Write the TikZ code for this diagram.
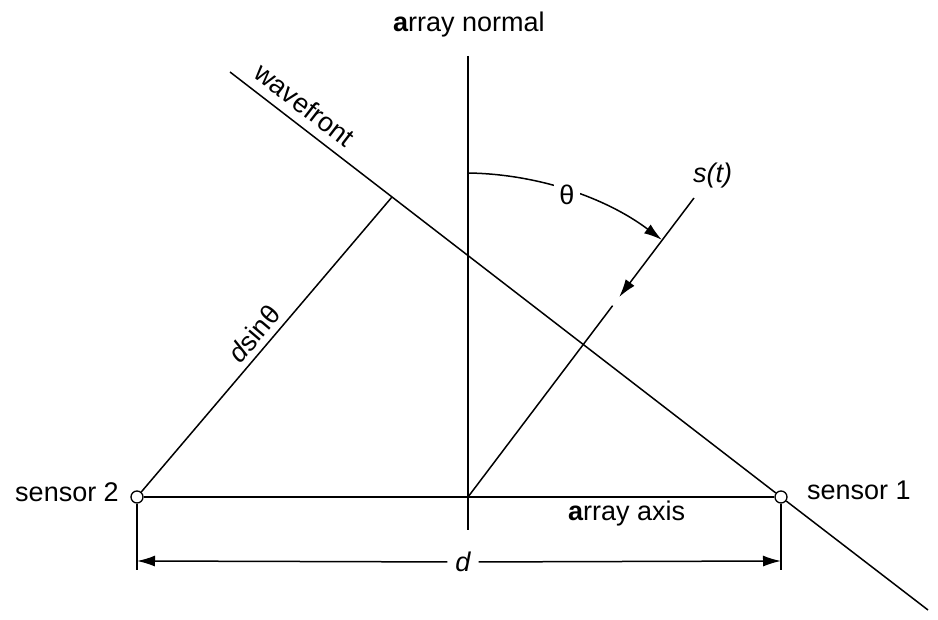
\documentclass[tikz,border=0pt]{standalone}
\usepackage{fontspec}
\setmainfont{Liberation Sans}
\usetikzlibrary{arrows.meta,calc}
\begin{document}
\begin{tikzpicture}[x=1pt,y=-1pt,
  ln/.style={line width=1.5pt, black},
  lbl/.style={font=\fontsize{27}{31}\selectfont, inner sep=0pt},
  sens/.style={circle, draw, line width=1.3pt, fill=white, minimum size=12pt, inner sep=0pt},
  tip/.style={-{Latex[length=18pt,width=11pt]}},
]
\useasboundingbox (0,0) rectangle (938,620);
\coordinate (O) at (468,497);
\coordinate (N1) at (468,56);
\coordinate (N2) at (468,530);
\coordinate (W1) at (230,72);
\coordinate (W2) at (928,610);
\coordinate (F) at (392,197);
\coordinate (S) at (694,198);
\coordinate (SA) at (619.2,297);
\coordinate (SB) at (612.6,305.7);
\coordinate (A0) at (468,173);
\coordinate (A1) at (661.8,239.8);
\coordinate (T2) at (137,570);
\coordinate (T1) at (781,570);
\coordinate (D2) at (137,561);
\coordinate (D1) at (781,561);

\node[sens] (s2) at (137,497) {};
\node[sens] (s1) at (781,497) {};

% array normal
\draw[ln] (N1) -- (N2);
% array axis
\draw[ln] (s2) -- (s1);
% wavefront
\draw[ln] (W1) -- node[lbl, sloped, above=9pt, pos=0.115] {wavefront} (s1);
\draw[ln] (s1) -- (W2);
% d sin theta
\draw[ln] (s2) -- node[lbl, sloped, above=6pt, pos=0.5] {\itshape d\upshape sinθ} (F);
% signal direction
\draw[ln, tip] (S) -- (SA);
\draw[ln] (SB) -- (O);
% angle arc
\draw[ln, tip] (A0) .. controls (538,174) and (606,197.7) .. (A1);
\node[lbl, fill=white, inner sep=5pt] (th) at (567,195) {θ};
% dimension
\draw[ln] (s2.south) -- (T2);
\draw[ln] (s1.south) -- (T1);
\node[lbl, fill=white, inner sep=8pt] (dl) at (463,562) {\itshape d};
\draw[ln, tip] (dl) -- (D2);
\draw[ln, tip] (dl) -- (D1);

% labels
\node[lbl, anchor=base] (an) at (469,32) {{\bfseries a}rray normal};
\node[lbl, anchor=base east] (l2) at (119,501) {sensor 2};
\node[lbl, anchor=base west] (l1) at (807,500) {sensor 1};
\node[lbl, anchor=base west] (ax) at (568,520) {{\bfseries a}rray axis};
\node[lbl, anchor=base west] (st) at (693,183) {\itshape s(t)};
\end{tikzpicture}
\end{document}
